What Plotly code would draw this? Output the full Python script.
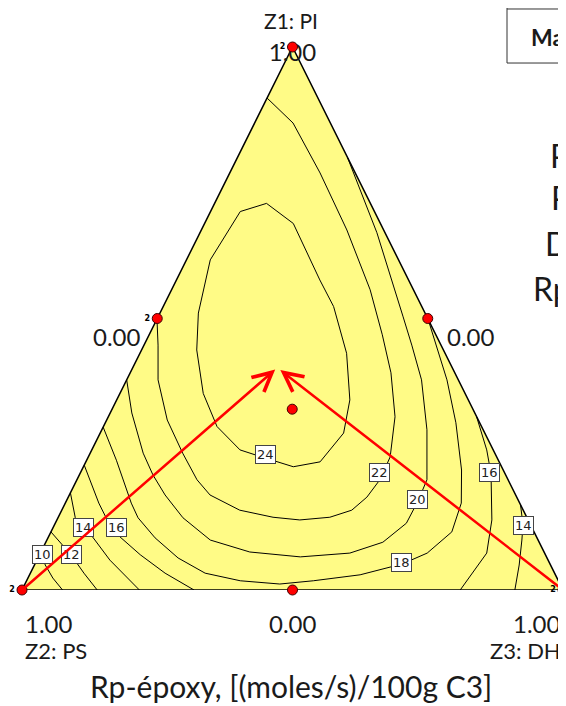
import plotly.graph_objects as go

# Mixture contour plot for Rp-epoxy. Compositions are stored as (PI, DH)
# fractions of the pseudo-components, PS being the remainder 1 - PI - DH.

# triangle corners: Z1 PI (top), Z2 PS (bottom left), Z3 DH (bottom right)
TRIANGLE_PI = [1.0, 0.0, 0.0, 1.0]
TRIANGLE_DH = [0.0, 0.0, 1.0, 0.0]

# contour lines
C24_PI = [0.712, 0.697, 0.608, 0.510, 0.442, 0.362, 0.301, 0.258, 0.246, 0.227,
          0.236, 0.289, 0.350, 0.436, 0.522, 0.571, 0.675, 0.712]
C24_DH = [0.096, 0.055, 0.044, 0.071, 0.102, 0.154, 0.210, 0.274, 0.317, 0.388,
          0.433, 0.450, 0.431, 0.382, 0.315, 0.265, 0.164, 0.096]

C22_PI = [0.499, 0.451, 0.387, 0.313, 0.252, 0.203, 0.175, 0.147, 0.134, 0.129,
          0.134, 0.147, 0.171, 0.203, 0.245, 0.319, 0.400, 0.470, 0.553, 0.663,
          0.768, 0.860, 0.906]
C22_DH = [0.000, 0.026, 0.058, 0.112, 0.171, 0.222, 0.260, 0.329, 0.397, 0.449,
          0.502, 0.536, 0.552, 0.560, 0.558, 0.530, 0.482, 0.431, 0.367, 0.269,
          0.167, 0.071, 0.000]

C20_PI = [0.797, 0.658, 0.503, 0.451, 0.387, 0.295, 0.203, 0.164, 0.123, 0.088,
          0.068, 0.061, 0.070, 0.092, 0.133, 0.175, 0.212, 0.252, 0.326, 0.387]
C20_DH = [0.203, 0.327, 0.453, 0.495, 0.545, 0.601, 0.647, 0.650, 0.649, 0.623,
          0.572, 0.484, 0.386, 0.302, 0.231, 0.177, 0.136, 0.098, 0.040, 0.000]

C18_PI = [0.499, 0.442, 0.387, 0.308, 0.221, 0.160, 0.107, 0.068, 0.048, 0.028,
          0.017, 0.011, 0.017, 0.031, 0.059, 0.096, 0.133, 0.160, 0.203, 0.239,
          0.300]
C18_DH = [0.501, 0.548, 0.592, 0.648, 0.702, 0.732, 0.741, 0.715, 0.679, 0.611,
          0.530, 0.471, 0.395, 0.323, 0.259, 0.198, 0.148, 0.122, 0.085, 0.055,
          0.000]

C16_LEFT_PI = [0.230, 0.193, 0.160, 0.129, 0.101, 0.065, 0.031, 0.000]
C16_LEFT_DH = [0.000, 0.033, 0.062, 0.093, 0.127, 0.186, 0.249, 0.318]
C16_RIGHT_PI = [0.000, 0.037, 0.068, 0.129, 0.214, 0.258, 0.320]
C16_RIGHT_DH = [0.810, 0.819, 0.825, 0.804, 0.760, 0.730, 0.680]

C14_LEFT_PI = [0.179, 0.133, 0.114, 0.099, 0.055, 0.026, 0.000]
C14_LEFT_DH = [0.000, 0.032, 0.058, 0.080, 0.135, 0.178, 0.217]
C14_RIGHT_PI = [0.000, 0.046, 0.092, 0.120, 0.157]
C14_RIGHT_DH = [0.911, 0.896, 0.878, 0.866, 0.843]

C12_PI = [0.107, 0.083, 0.065, 0.031, 0.000]
C12_DH = [0.000, 0.033, 0.058, 0.099, 0.139]

C10_PI = [0.070, 0.046, 0.022, 0.000]
C10_DH = [0.000, 0.020, 0.046, 0.075]

# contour labels
LABEL_TEXT = ["24", "22", "20", "18", "16", "14", "16", "14", "12", "10"]
LABEL_PI = [0.250, 0.216, 0.166, 0.051, 0.216, 0.118, 0.116, 0.116, 0.066, 0.066]
LABEL_DH = [0.326, 0.553, 0.648, 0.676, 0.757, 0.868, 0.117, 0.055, 0.058, 0.004]

# design points (simplex centroid) and their replicate counts
DESIGN_PI = [1.0, 0.0, 0.0, 0.5, 0.5, 0.0, 0.333]
DESIGN_DH = [0.0, 0.0, 1.0, 0.0, 0.5, 0.5, 0.333]
DESIGN_REPS = [2, 2, 2, 2, 1, 1, 1]

# red arrows from the PS and DH corners towards the optimum
ARROW_FROM_PI = [0.0, 0.0]
ARROW_FROM_DH = [0.0, 1.0]
ARROW_TO_PI = [0.406, 0.405]
ARROW_TO_DH = [0.265, 0.275]

FONT = "Lato"
TXT = "#1a1a1a"


def to_xy(pi, dh):
    """Flattens (PI, DH) compositions onto the drawing triangle."""
    return [d + p / 2 for p, d in zip(pi, dh)], list(pi)


fig = go.Figure()

# Filled triangle
tx, ty = to_xy(TRIANGLE_PI, TRIANGLE_DH)
fig.add_trace(go.Scatter(x=tx, y=ty, mode="lines", fill="toself",
                         fillcolor="#FFFB86", line=dict(color="black", width=1.5),
                         hoverinfo="skip"))

# Contour lines
contours = [
    (C24_PI, C24_DH), (C22_PI, C22_DH), (C20_PI, C20_DH), (C18_PI, C18_DH),
    (C16_LEFT_PI, C16_LEFT_DH), (C16_RIGHT_PI, C16_RIGHT_DH),
    (C14_LEFT_PI, C14_LEFT_DH), (C14_RIGHT_PI, C14_RIGHT_DH),
    (C12_PI, C12_DH), (C10_PI, C10_DH),
]
for pi, dh in contours:
    cx, cy = to_xy(pi, dh)
    fig.add_trace(go.Scatter(x=cx, y=cy, mode="lines",
                             line=dict(color="black", width=1), hoverinfo="skip"))

# "1.00" at the PI corner sits under the design point, a few px below the tip
fig.add_trace(go.Scatter(x=[0.5], y=[0.985], mode="text", text=["1.00"],
                         textposition="middle center", cliponaxis=False,
                         textfont=dict(family=FONT, size=24, color=TXT),
                         hoverinfo="skip"))

# Design points
px_, py_ = to_xy(DESIGN_PI, DESIGN_DH)
fig.add_trace(go.Scatter(
    x=px_, y=py_, mode="markers+text",
    text=[str(r) if r > 1 else "" for r in DESIGN_REPS],
    textposition="middle left", cliponaxis=False,
    textfont=dict(family="DejaVu Sans", size=8, color="black", weight="bold"),
    marker=dict(size=10, color="#FF0000", line=dict(color="#400000", width=1)),
    hoverinfo="skip"))

annotations = []

# contour labels
for t, p, d in zip(LABEL_TEXT, LABEL_PI, LABEL_DH):
    annotations.append(dict(
        x=d + p / 2, y=p, xref="x", yref="y", text=t, showarrow=False,
        bgcolor="white", bordercolor="#444", borderwidth=1, borderpad=1,
        font=dict(family="DejaVu Sans", size=13, color="#222")))

# arrows
for fp, fd, tp, td in zip(ARROW_FROM_PI, ARROW_FROM_DH, ARROW_TO_PI, ARROW_TO_DH):
    annotations.append(dict(
        x=td + tp / 2, y=tp, ax=fd + fp / 2, ay=fp,
        xref="x", yref="y", axref="x", ayref="y", text="",
        showarrow=True, arrowhead=5, arrowsize=1.5, arrowwidth=2.5,
        arrowcolor="#FF0000", standoff=0))


def label(text, x, y, size=24, xanchor="center", bold=False):
    annotations.append(dict(
        x=x, y=y, xref="paper", yref="paper", text=f"<b>{text}</b>" if bold else text,
        showarrow=False, xanchor=xanchor, yanchor="middle",
        font=dict(family=FONT, size=size, color=TXT)))


label("Z1: PI", 0.497, 1.048, size=21)
label("0.00", 0.224, 0.466, xanchor="right")
label("0.00", 0.782, 0.466, xanchor="left")
label("1.00", 0.002, -0.062, xanchor="left")
label("0.00", 0.501, -0.062)
label("1.00", 1.0, -0.062, xanchor="right")
label("Z2: PS", 0.001, -0.112, size=22, xanchor="left")
label("Z3: DH", 1.0, -0.112, size=22, xanchor="right")
label("Rp-époxy, [(moles/s)/100g C3]", 0.497, -0.177, size=30)

# legend text that runs off the right edge of the picture
label("Ma", 0.938, 1.019, size=23, xanchor="left", bold=True)
label("PI", 0.972, 0.801, size=32, xanchor="left")
label("PS", 0.975, 0.722, size=32, xanchor="left")
label("DH", 0.963, 0.639, size=32, xanchor="left")
label("Rp", 0.941, 0.556, size=32, xanchor="left")

# the page body keeps an 8px margin, so the figure is 8px smaller each way
fig.update_layout(
    width=558, height=698,
    margin=dict(l=14, r=3, t=39, b=116),
    paper_bgcolor="white", plot_bgcolor="white",
    showlegend=False,
    xaxis=dict(range=[0, 1], visible=False),
    yaxis=dict(range=[0, 1], visible=False),
    annotations=annotations,
    shapes=[
        dict(type="rect", xref="paper", yref="paper", x0=0.8965, x1=1.1,
             y0=0.9705, y1=1.2, line=dict(color="#333", width=1)),
        dict(type="line", xref="paper", yref="paper", x0=0.8965, x1=1.1,
             y0=1.070, y1=1.070, line=dict(color="#333", width=1)),
    ],
)

fig.write_html("out.html")
